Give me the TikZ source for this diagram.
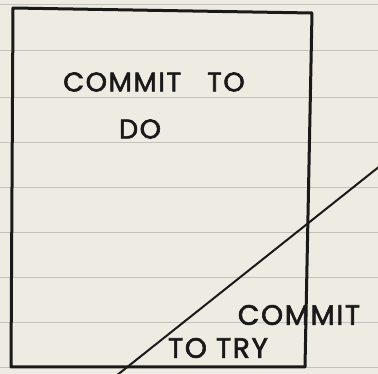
\documentclass[tikz,border=0pt]{standalone}
\usepackage{fontspec}
\setmainfont[FakeBold=2.2, LetterSpace=6]{Poppins}
\usetikzlibrary{positioning}
\definecolor{paper}{RGB}{238,235,227}
\definecolor{ruling}{RGB}{196,194,188}
\definecolor{ink}{RGB}{25,25,25}
\tikzset{
  inkline/.style={draw=ink, line width=3pt, line cap=round, line join=round},
  hand/.style={text=ink, font=\fontsize{27}{32}\selectfont, inner sep=0pt},
  handsmall/.style={hand, font=\fontsize{28}{33}\selectfont},
}

\begin{document}
\begin{tikzpicture}[x=1pt,y=-1pt]
    \useasboundingbox (0,0) rectangle (378,374);
    % Paper
    \fill[paper] (0,0) rectangle (378,374);
    \foreach \y in {4,50,97,142,187,232,277,322,367}
        \draw[ruling, line width=0.8pt] (0,\y) -- (378,\y);

    % Box
    \coordinate (tl) at (13,8);
    \coordinate (tr) at (312,13);
    \coordinate (br) at (305,367);
    \coordinate (bl) at (11,367);
    \draw[inkline] (tl) -- (tr) -- (br) -- (bl) -- cycle;

    % Diagonal
    \coordinate (lo) at (116,376);
    \coordinate (hi) at (380,166);
    \begin{scope}
        \clip (0,0) rectangle (378,374);
        \draw[draw=ink, line width=2pt] (lo) -- (hi);
    \end{scope}

    % Labels
    \node[hand] (commitdo) at (154,82) {COMMIT\hspace{26pt}TO};
    \node[hand] (do) at (140,129) {DO};
    \node[handsmall] (committry) at (299,315) {COMMIT};
    \node[handsmall] (try) at (218,348) {TO TRY};
\end{tikzpicture}
\end{document}
